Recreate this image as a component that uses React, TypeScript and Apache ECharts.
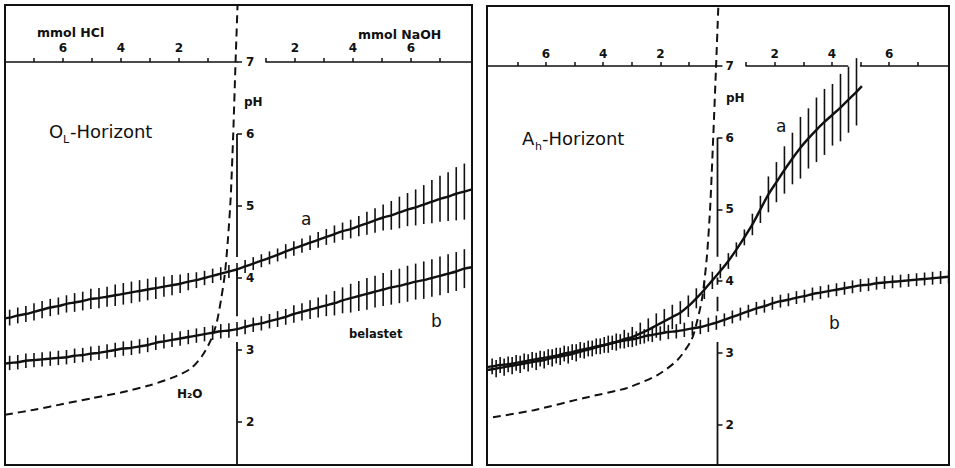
import React, { useEffect, useRef } from "react";
import * as echarts from "echarts";

// ---------------- data (mmol acid negative / base positive, pH) ----------------
// Left panel (O_L-Horizont)
const XS_L = [-7.84, -7.56, -7.28, -7.0, -6.72, -6.44, -6.16, -5.88, -5.6, -5.32, -5.04, -4.76, -4.48, -4.2, -3.92, -3.64, -3.36, -3.08, -2.8, -2.52, -2.24, -1.96, -1.68, -1.4, -1.12, -0.84, -0.56, -0.28, 0, 0.28, 0.56, 0.84, 1.12, 1.4, 1.68, 1.96, 2.24, 2.52, 2.8, 3.08, 3.36, 3.64, 3.92, 4.2, 4.48, 4.76, 5.04, 5.32, 5.6, 5.88, 6.16, 6.44, 6.72, 7.0, 7.28, 7.56, 7.84];
const A_L = [3.45, 3.48, 3.5, 3.53, 3.56, 3.59, 3.61, 3.64, 3.66, 3.68, 3.71, 3.72, 3.74, 3.76, 3.78, 3.8, 3.82, 3.84, 3.86, 3.88, 3.9, 3.92, 3.95, 3.97, 4.0, 4.03, 4.06, 4.09, 4.12, 4.16, 4.2, 4.24, 4.28, 4.32, 4.37, 4.41, 4.45, 4.49, 4.53, 4.57, 4.61, 4.65, 4.68, 4.72, 4.76, 4.8, 4.84, 4.87, 4.91, 4.95, 4.98, 5.02, 5.06, 5.1, 5.13, 5.17, 5.2];
const A_L_HALF = [0.11, 0.11, 0.11, 0.12, 0.12, 0.12, 0.12, 0.12, 0.13, 0.13, 0.14, 0.14, 0.14, 0.15, 0.15, 0.15, 0.15, 0.15, 0.15, 0.14, 0.14, 0.13, 0.12, 0.11, 0.1, 0.1, 0.09, 0.09, 0.09, 0.09, 0.09, 0.09, 0.09, 0.09, 0.1, 0.1, 0.1, 0.1, 0.11, 0.11, 0.12, 0.12, 0.13, 0.14, 0.16, 0.17, 0.18, 0.2, 0.22, 0.23, 0.25, 0.27, 0.3, 0.32, 0.34, 0.37, 0.39];
const A_L_ENDS = [[-8.0, 3.44], [8.1, 5.23]];
const B_L = [2.82, 2.83, 2.85, 2.86, 2.87, 2.88, 2.89, 2.9, 2.92, 2.93, 2.95, 2.96, 2.98, 3.0, 3.02, 3.03, 3.05, 3.07, 3.1, 3.12, 3.14, 3.16, 3.18, 3.2, 3.22, 3.24, 3.26, 3.27, 3.29, 3.32, 3.35, 3.37, 3.4, 3.43, 3.46, 3.5, 3.53, 3.56, 3.59, 3.62, 3.65, 3.69, 3.72, 3.75, 3.78, 3.81, 3.84, 3.87, 3.89, 3.92, 3.95, 3.97, 4.0, 4.03, 4.06, 4.09, 4.13];
const B_L_HALF = [0.1, 0.1, 0.1, 0.1, 0.1, 0.1, 0.1, 0.1, 0.1, 0.1, 0.1, 0.1, 0.1, 0.1, 0.1, 0.1, 0.1, 0.1, 0.1, 0.1, 0.1, 0.1, 0.1, 0.1, 0.1, 0.1, 0.1, 0.1, 0.1, 0.1, 0.1, 0.1, 0.1, 0.11, 0.11, 0.12, 0.12, 0.13, 0.14, 0.15, 0.17, 0.18, 0.2, 0.21, 0.22, 0.22, 0.23, 0.24, 0.24, 0.25, 0.25, 0.26, 0.26, 0.27, 0.27, 0.27, 0.27];
const B_L_ENDS = [[-8.0, 2.81], [8.1, 4.15]];
const H2O_L = [[-8.0, 2.1], [-7, 2.17], [-6, 2.25], [-5, 2.33], [-4, 2.41], [-3, 2.51], [-2.2, 2.62], [-1.6, 2.74], [-1.2, 2.92], [-0.9, 3.14], [-0.7, 3.38], [-0.55, 3.7], [-0.42, 4.05], [-0.32, 4.5], [-0.22, 5.1], [-0.13, 6.0], [-0.05, 7.0], [0.02, 7.8]];
const PH_AXIS_L = [[6, 4.29], [4.14, 3.47], [3.11, 1.4]];

// Right panel (A_h-Horizont)
const XS_RA = [-7.74, -7.46, -7.18, -6.9, -6.62, -6.34, -6.06, -5.78, -5.5, -5.22, -4.94, -4.66, -4.38, -4.1, -3.82, -3.54, -3.26, -2.98, -2.7, -2.42, -2.14, -1.86, -1.58, -1.3, -1.02, -0.74, -0.46, -0.18, 0.1, 0.38, 0.66, 0.94, 1.22, 1.5, 1.78, 2.06, 2.34, 2.62, 2.9, 3.18, 3.46, 3.74, 4.02, 4.3, 4.58, 4.86];
const A_R = [2.78, 2.8, 2.82, 2.84, 2.86, 2.88, 2.9, 2.93, 2.95, 2.97, 3.0, 3.03, 3.06, 3.09, 3.12, 3.15, 3.19, 3.22, 3.27, 3.32, 3.38, 3.44, 3.5, 3.56, 3.65, 3.76, 3.88, 4.01, 4.14, 4.28, 4.44, 4.61, 4.79, 5.0, 5.21, 5.38, 5.55, 5.71, 5.86, 5.99, 6.11, 6.22, 6.32, 6.42, 6.53, 6.64];
const A_R_HALF = [0.12, 0.12, 0.12, 0.12, 0.12, 0.12, 0.12, 0.12, 0.12, 0.12, 0.12, 0.11, 0.11, 0.11, 0.12, 0.12, 0.13, 0.14, 0.15, 0.16, 0.17, 0.17, 0.17, 0.16, 0.15, 0.14, 0.13, 0.12, 0.1, 0.11, 0.1, 0.11, 0.15, 0.19, 0.25, 0.28, 0.33, 0.36, 0.43, 0.42, 0.45, 0.46, 0.43, 0.47, 0.46, 0.47];
const A_R_ENDS = [[-8.06, 2.76], [5.05, 6.72]];
const XS_RB = [-7.88, -7.6, -7.32, -7.04, -6.76, -6.48, -6.2, -5.92, -5.64, -5.36, -5.08, -4.8, -4.52, -4.24, -3.96, -3.68, -3.4, -3.12, -2.84, -2.56, -2.28, -2.0, -1.72, -1.44, -1.16, -0.88, -0.6, -0.32, -0.04, 0.24, 0.52, 0.8, 1.08, 1.36, 1.64, 1.92, 2.2, 2.48, 2.76, 3.04, 3.32, 3.6, 3.88, 4.16, 4.44, 4.72, 5.0, 5.28, 5.56, 5.84, 6.12, 6.4, 6.68, 6.96, 7.24, 7.52, 7.8, 8.08];
const B_R = [2.81, 2.83, 2.84, 2.86, 2.88, 2.9, 2.92, 2.94, 2.96, 2.99, 3.01, 3.04, 3.06, 3.09, 3.11, 3.14, 3.16, 3.18, 3.2, 3.23, 3.25, 3.27, 3.29, 3.3, 3.32, 3.34, 3.36, 3.39, 3.42, 3.46, 3.5, 3.54, 3.58, 3.62, 3.65, 3.69, 3.72, 3.74, 3.77, 3.79, 3.82, 3.84, 3.86, 3.88, 3.9, 3.92, 3.94, 3.95, 3.97, 3.98, 3.99, 4.0, 4.01, 4.02, 4.03, 4.04, 4.05, 4.06];
const B_R_HALF = [0.11, 0.11, 0.11, 0.11, 0.11, 0.11, 0.11, 0.11, 0.11, 0.11, 0.11, 0.11, 0.11, 0.11, 0.11, 0.1, 0.1, 0.1, 0.1, 0.1, 0.1, 0.1, 0.1, 0.1, 0.1, 0.1, 0.1, 0.1, 0.1, 0.09, 0.09, 0.09, 0.09, 0.09, 0.09, 0.09, 0.09, 0.09, 0.09, 0.09, 0.09, 0.09, 0.09, 0.09, 0.09, 0.09, 0.09, 0.09, 0.09, 0.09, 0.09, 0.09, 0.09, 0.09, 0.09, 0.09, 0.09, 0.09];
const B_R_ENDS = [[-8.06, 2.8], [8.09, 4.06]];
const H2O_R = [[-7.85, 2.1], [-6.42, 2.2], [-4.67, 2.37], [-3.16, 2.51], [-2.1, 2.69], [-1.4, 2.9], [-0.91, 3.18], [-0.7, 3.46], [-0.53, 3.78], [-0.38, 4.3], [-0.26, 5.0], [-0.15, 6.0], [-0.05, 7.0], [0.03, 7.84]];
const PH_AXIS_R = [[6, 4.34], [4.05, 3.95], [3.78, 3.58], [3.15, 1.43]];

// tick values
const PH_TICKS = [2, 3, 4, 5, 6, 7];
const ACID_TICKS = [-7, -6, -5, -4, -3, -2, -1];
const ACID_LABELS = [-6, -4, -2];
const BASE_TICKS_L = [1, 2, 3, 4, 5, 6, 7];
const BASE_LABELS = [2, 4, 6];
const BASE_TICKS_R1 = [1, 2, 3, 4];
const BASE_LABELS_R1 = [2, 4];
const BASE_TICKS_R2 = [5, 6, 7];
const BASE_LABELS_R2 = [6];

// ---------------- layout ----------------
const INK = "#111";
const FONT = '"DejaVu Sans", sans-serif';

type Panel = {
  cx: number; k: number; y7: number; py: number;
  xMin: number; xMax: number; yMin: number; yMax: number;
  phLabelMargin: number; topLabelMargin: number;
};
const LEFT: Panel = { cx: 237, k: 29.0, y7: 62, py: 72, xMin: -8.0, xMax: 8.1, yMin: 1.4, yMax: 7.8, phLabelMargin: 9, topLabelMargin: 8 };
const RIGHT: Panel = { cx: 717.5, k: 28.6, y7: 66, py: 71.7, xMin: -8.06, xMax: 8.09, yMin: 1.43, yMax: 7.84, phLabelMargin: 8, topLabelMargin: 6 };

const px = (p: Panel, m: number) => p.cx + p.k * m;
const pyy = (p: Panel, v: number) => p.y7 - (v - 7) * p.py;

const zip = (xs: number[], ys: number[]) => xs.map((x, i) => [x, ys[i]]);
const hatchData = (xs: number[], c: number[], h: number[]) => xs.map((x, i) => [x, c[i], h[i]]);
const curveData = (xs: number[], c: number[], ends: number[][]) => [ends[0], ...zip(xs, c), ends[1]];
const segData = (segs: number[][]) => {
  const out: any[] = [];
  segs.forEach((s, i) => {
    if (i) out.push([0, "-"]);
    out.push([0, s[0]], [0, s[1]]);
  });
  return out;
};

function buildOption() {
  const grid: any[] = [];
  const xAxis: any[] = [];
  const yAxis: any[] = [];
  const series: any[] = [];

  const addGrid = (g: any, xa: any, ya: any) => {
    grid.push({ ...g, containLabel: false, outerBoundsMode: "none", show: false });
    const i = grid.length - 1;
    xAxis.push({ type: "value", gridIndex: i, splitLine: { show: false }, ...xa });
    yAxis.push({ type: "value", gridIndex: i, splitLine: { show: false }, ...ya });
    return i;
  };

  const labelStyle = { color: INK, fontSize: 12, fontWeight: "bold", fontFamily: FONT };

  const panel = (
    p: Panel,
    curves: { xs: number[]; c: number[]; h: number[]; ends: number[][] }[],
    h2o: number[][],
    phSegs: number[][],
    topSegs: { a: number; b: number; ticks: number[]; labels: number[] }[]
  ) => {
    const top = pyy(p, p.yMax);
    const height = (p.yMax - p.yMin) * p.py;
    const main = addGrid(
      { left: px(p, p.xMin), top, width: (p.xMax - p.xMin) * p.k, height },
      { min: p.xMin, max: p.xMax, show: false },
      { min: p.yMin, max: p.yMax, show: false }
    );
    // pH axis ticks/labels
    addGrid(
      { left: px(p, 0), top, width: 1, height },
      { min: 0, max: 1, show: false },
      {
        min: p.yMin, max: p.yMax, position: "left",
        axisLine: { show: false },
        axisTick: { show: true, inside: true, length: 5, customValues: PH_TICKS, lineStyle: { color: INK, width: 1.5 } },
        axisLabel: { show: true, inside: true, margin: p.phLabelMargin, customValues: PH_TICKS, ...labelStyle },
      }
    );
    // top mmol axis segments
    topSegs.forEach((s) => {
      addGrid(
        { left: px(p, s.a), top: p.y7, width: (s.b - s.a) * p.k, height: 1 },
        {
          min: s.a, max: s.b, position: "top",
          axisLine: { show: true, onZero: false, lineStyle: { color: INK, width: 1.6 } },
          axisTick: { show: true, length: 4, customValues: s.ticks, lineStyle: { color: INK, width: 1.5 } },
          axisLabel: {
            show: true, margin: p.topLabelMargin, customValues: s.labels,
            formatter: (v: number) => String(Math.abs(v)), ...labelStyle,
          },
        },
        { min: 0, max: 1, show: false }
      );
    });

    // pH axis line (broken where curves cross)
    series.push({
      type: "line", xAxisIndex: main, yAxisIndex: main, data: segData(phSegs),
      symbol: "none", lineStyle: { color: INK, width: 1.8 }, silent: true, z: 2,
    });
    // H2O dashed curve
    series.push({
      type: "line", xAxisIndex: main, yAxisIndex: main, data: h2o,
      smooth: 0.25, symbol: "none",
      lineStyle: { color: INK, width: 2, type: [8, 5] }, silent: true, z: 3,
    });
    curves.forEach((cv) => {
      series.push({
        type: "line", xAxisIndex: main, yAxisIndex: main, data: curveData(cv.xs, cv.c, cv.ends),
        smooth: 0.3, symbol: "none", lineStyle: { color: INK, width: 2.4 }, silent: true, z: 4,
      });
      series.push({
        type: "custom", xAxisIndex: main, yAxisIndex: main, data: hatchData(cv.xs, cv.c, cv.h),
        silent: true, z: 4,
        renderItem: (_params: any, api: any) => {
          const x = api.value(0), c = api.value(1), h = api.value(2);
          const p1 = api.coord([x, c - h]);
          const p2 = api.coord([x, c + h]);
          return {
            type: "line",
            shape: { x1: p1[0], y1: p1[1], x2: p2[0], y2: p2[1] },
            style: { stroke: INK, lineWidth: 1.6 },
          };
        },
      });
    });
  };

  panel(
    LEFT,
    [
      { xs: XS_L, c: A_L, h: A_L_HALF, ends: A_L_ENDS },
      { xs: XS_L, c: B_L, h: B_L_HALF, ends: B_L_ENDS },
    ],
    H2O_L,
    PH_AXIS_L,
    [
      { a: -8.0, b: 0, ticks: ACID_TICKS, labels: ACID_LABELS },
      { a: 1.0, b: 8.1, ticks: BASE_TICKS_L, labels: BASE_LABELS },
    ]
  );
  panel(
    RIGHT,
    [
      { xs: XS_RA, c: A_R, h: A_R_HALF, ends: A_R_ENDS },
      { xs: XS_RB, c: B_R, h: B_R_HALF, ends: B_R_ENDS },
    ],
    H2O_R,
    PH_AXIS_R,
    [
      { a: -8.06, b: 0, ticks: ACID_TICKS, labels: ACID_LABELS },
      { a: 1.0, b: 4.55, ticks: BASE_TICKS_R1, labels: BASE_LABELS_R1 },
      { a: 5.0, b: 8.09, ticks: BASE_TICKS_R2, labels: BASE_LABELS_R2 },
    ]
  );

  const txt = (text: string, x: number, y: number, size: number, weight = "normal") => ({
    type: "text", x, y, z: 20, silent: true,
    style: { text, fill: INK, fontSize: size, fontWeight: weight, fontFamily: FONT, align: "left", verticalAlign: "middle" },
  });
  const frame = (x: number, y: number, w: number, h: number) => ({
    type: "rect", z: 15, silent: true,
    shape: { x, y, width: w, height: h },
    style: { fill: "none", stroke: INK, lineWidth: 2 },
  });

  const graphic = [
    frame(5, 5, 467, 460),
    frame(487, 6, 462, 459),
    txt("mmol HCl", 37, 32.5, 12.5, "bold"),
    txt("mmol NaOH", 358, 34, 12.5, "bold"),
    txt("pH", 244, 102, 12, "bold"),
    txt("O", 49, 131.5, 18),
    txt("L", 63, 139, 11),
    txt("-Horizont", 70, 131.5, 18),
    txt("a", 301, 219, 17),
    txt("b", 431, 321, 17),
    txt("belastet", 349, 334, 11.5, "bold"),
    txt("H₂O", 177, 394, 12, "bold"),
    txt("pH", 726, 98, 12, "bold"),
    txt("A", 522, 138.5, 18),
    txt("h", 535, 146, 11),
    txt("-Horizont", 542, 138.5, 18),
    txt("a", 776, 125.5, 17),
    txt("b", 829, 323, 17),
  ];

  return {
    animation: false,
    backgroundColor: "#fff",
    grid,
    xAxis,
    yAxis,
    series,
    graphic,
  };
}

export default function App() {
  const ref = useRef<HTMLDivElement>(null);
  useEffect(() => {
    if (!ref.current) return;
    const chart = echarts.init(ref.current, undefined, { renderer: "svg" });
    chart.setOption(buildOption() as any);
    return () => chart.dispose();
  }, []);
  return (
    <div
      ref={ref}
      style={{ position: "absolute", left: 0, top: 0, width: 955, height: 468, background: "#fff" }}
    />
  );
}
